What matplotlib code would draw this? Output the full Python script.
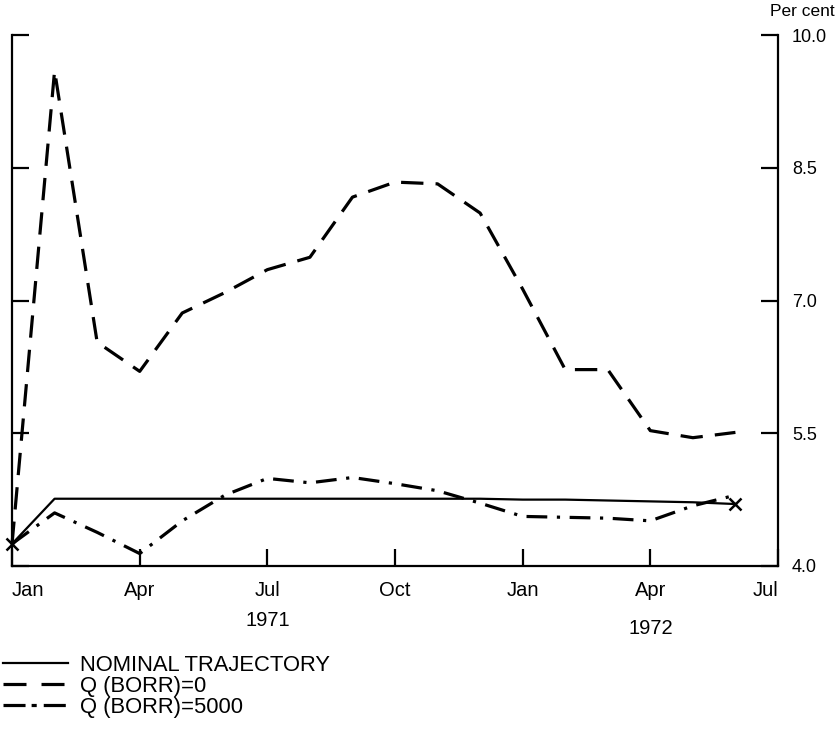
import matplotlib.pyplot as plt
from matplotlib.lines import Line2D
from matplotlib.transforms import blended_transform_factory

plt.rcParams['font.family'] = ['Liberation Sans', 'DejaVu Sans']

# months from Jan 1971 (0) to Jun 1972 (17)
months = list(range(18))

nominal = [4.25, 4.76, 4.76, 4.76, 4.76, 4.76, 4.76, 4.76, 4.76,
           4.76, 4.76, 4.76, 4.75, 4.75, 4.74, 4.73, 4.72, 4.70]
borr_0 = [4.25, 9.6, 6.53, 6.2, 6.86, 7.09, 7.35, 7.49, 8.17,
          8.34, 8.32, 7.99, 7.13, 6.22, 6.22, 5.53, 5.45, 5.51]
borr_5000 = [4.25, 4.60, 4.38, 4.14, 4.51, 4.80, 4.99, 4.94, 5.00,
             4.93, 4.85, 4.71, 4.56, 4.55, 4.54, 4.51, 4.68, 4.80]

tick_months = [0, 3, 6, 9, 12, 15, 18]
tick_labels = ['Jan', 'Apr', 'Jul', 'Oct', 'Jan', 'Apr', 'Jul']
y_ticks = [4.0, 5.5, 7.0, 8.5, 10.0]

fig = plt.figure(figsize=(8.36, 7.35), dpi=100)
ax = fig.add_axes([0.0144, 0.23, 0.9162, 0.722])

ax.plot(months, nominal, color='black', lw=1.6, clip_on=False)
ax.plot([months[0], months[-1]], [nominal[0], nominal[-1]], 'x', color='black',
        ms=9, mew=1.8, clip_on=False)
ax.plot(months, borr_0, color='black', lw=2.3, dashes=(7, 3.8), clip_on=False)
ax.plot(months, borr_5000, color='black', lw=2.3, dashes=(6.5, 3, 1, 3), clip_on=False)

ax.set_xlim(0.2, 18)
ax.set_ylim(4.0, 10.0)
ax.spines['top'].set_visible(False)
for s in ['left', 'right', 'bottom']:
    ax.spines[s].set_linewidth(1.6)

ax.set_xticks(tick_months)
ax.set_xticklabels(tick_labels, fontsize=14.5)
ax.set_yticks(y_ticks)
ax.set_yticklabels(['%.1f' % v for v in y_ticks], fontsize=13)
ax.tick_params(axis='y', direction='in', left=True, right=True,
               labelleft=False, labelright=True, length=12, width=1.6, pad=10)
ax.tick_params(axis='x', direction='in', length=12, width=1.6, pad=11)
xl = ax.get_xticklabels()
xl[0].set_horizontalalignment('left')
xl[0].set_x(0.0)
xl[-1].set_horizontalalignment('right')

tr = blended_transform_factory(ax.transData, ax.transAxes)
ax.text(6, -0.102, '1971', transform=tr, ha='center', va='center', fontsize=14.5)
ax.text(15, -0.117, '1972', transform=tr, ha='center', va='center', fontsize=14.5)
fig.text(0.998, 0.984, 'Per cent', ha='right', va='center', fontsize=12.5)

handles = [Line2D([], [], color='black', lw=1.6),
           Line2D([], [], color='black', lw=2.3, dashes=(7.2, 4.7)),
           Line2D([], [], color='black', lw=2.3, dashes=(6.9, 1.9, 1.6, 2.2))]
fig.legend(handles, ['NOMINAL TRAJECTORY', 'Q (BORR)=0', 'Q (BORR)=5000'],
           loc='upper left', bbox_to_anchor=(0.0036, 0.109), frameon=False,
           fontsize=15.8, handlelength=2.95, handletextpad=0.55, labelspacing=0.0,
           borderpad=0, borderaxespad=0)

fig.savefig('out.png', dpi=100)
